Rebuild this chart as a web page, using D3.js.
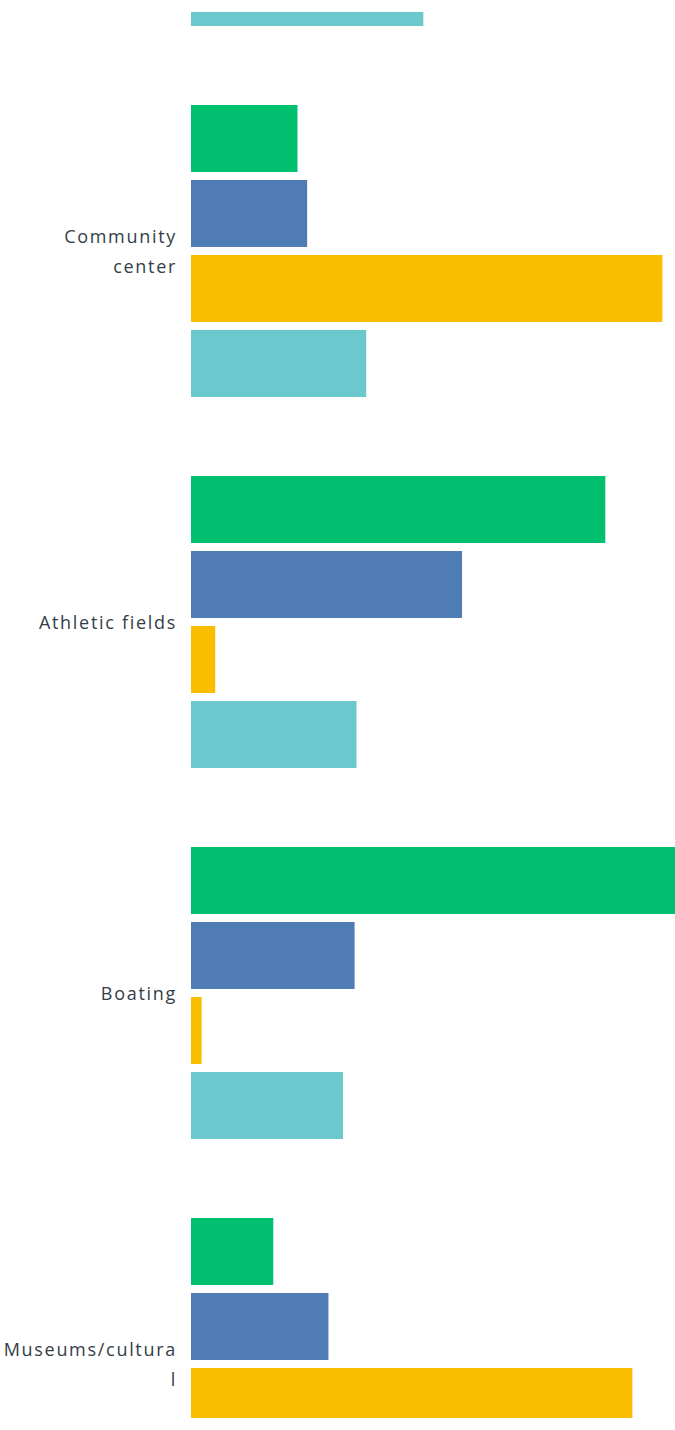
<!DOCTYPE html>
<html lang="en">

<head>
    <meta charset="UTF-8">
    <script src="https://cdn.jsdelivr.net/npm/d3@7"></script>
    <title>Grouped bars</title>
    <style>
        body {
            margin: 0;
            background: #fff;
        }

        .label {
            font-family: "Open Sans", sans-serif;
            font-size: 18px;
            letter-spacing: 1.7px;
            fill: #333e48;
        }
    </style>
</head>

<body>
    <div class="chart"></div>

    <script>
        const width = 675;
        const height = 1430;

        // categories (first one is the tail of a group above the visible area)
        const categories = ["", "Community center", "Athletic fields", "Boating", "Museums/cultural"];
        const labelLines = [[], ["Community", "center"], ["Athletic fields"], ["Boating"], ["Museums/cultura", "l"]];
        const series = ["s1", "s2", "s3", "s4"];
        const colors = ["#00bf6f", "#507cb6", "#f9be00", "#6bc8cd"];

        // percent values per series, null where the bar is outside the picture
        const s1Values = [null, 11.0, 42.8, 52.0, 8.5];
        const s2Values = [null, 12.0, 28.0, 16.9, 14.2];
        const s3Values = [null, 48.7, 2.5, 1.1, 45.6];
        const s4Values = [24.0, 18.1, 17.1, 15.7, null];
        const allValues = [s1Values, s2Values, s3Values, s4Values];

        const x0 = 191;
        const groupStep = 371;
        const groupPad = 0.213;
        const firstTop = 105 - groupStep;

        const svg = d3.select(".chart").append("svg")
            .attr("width", width)
            .attr("height", height);

        const x = d3.scaleLinear()
            .domain([0, 50])
            .range([x0, width]);

        const y = d3.scaleBand()
            .domain(categories.map((d, i) => i))
            .range([firstTop, firstTop + groupStep * (categories.length - groupPad)])
            .paddingInner(groupPad)
            .paddingOuter(0);

        const ySub = d3.scaleBand()
            .domain(series)
            .range([0, y.bandwidth()])
            .paddingInner(0.107);

        svg.append("clipPath")
            .attr("id", "plot")
            .append("rect")
            .attr("x", 0)
            .attr("y", 12)
            .attr("width", width)
            .attr("height", 1406);

        const rows = [];
        categories.forEach((c, i) => {
            series.forEach((s, j) => {
                const v = allValues[j][i];
                if (v !== null) rows.push({ cat: i, s: s, j: j, value: v });
            });
        });

        svg.append("g")
            .attr("clip-path", "url(#plot)")
            .selectAll("rect")
            .data(rows)
            .enter()
            .append("rect")
            .attr("x", x(0))
            .attr("y", d => y(d.cat) + ySub(d.s))
            .attr("width", d => x(d.value) - x(0))
            .attr("height", ySub.bandwidth())
            .attr("fill", d => colors[d.j]);

        // category labels, right aligned next to the bars
        const lineHeight = 30;
        const labels = svg.append("g");
        categories.forEach((c, i) => {
            const lines = labelLines[i];
            const mid = y(i) + y.bandwidth() / 2;
            const text = labels.append("text")
                .attr("class", "label")
                .attr("text-anchor", "end")
                .attr("dominant-baseline", "central");
            lines.forEach((line, k) => {
                text.append("tspan")
                    .attr("x", 177)
                    .attr("y", mid + (k - (lines.length - 1) / 2) * lineHeight)
                    .text(line);
            });
        });
    </script>
</body>

</html>
